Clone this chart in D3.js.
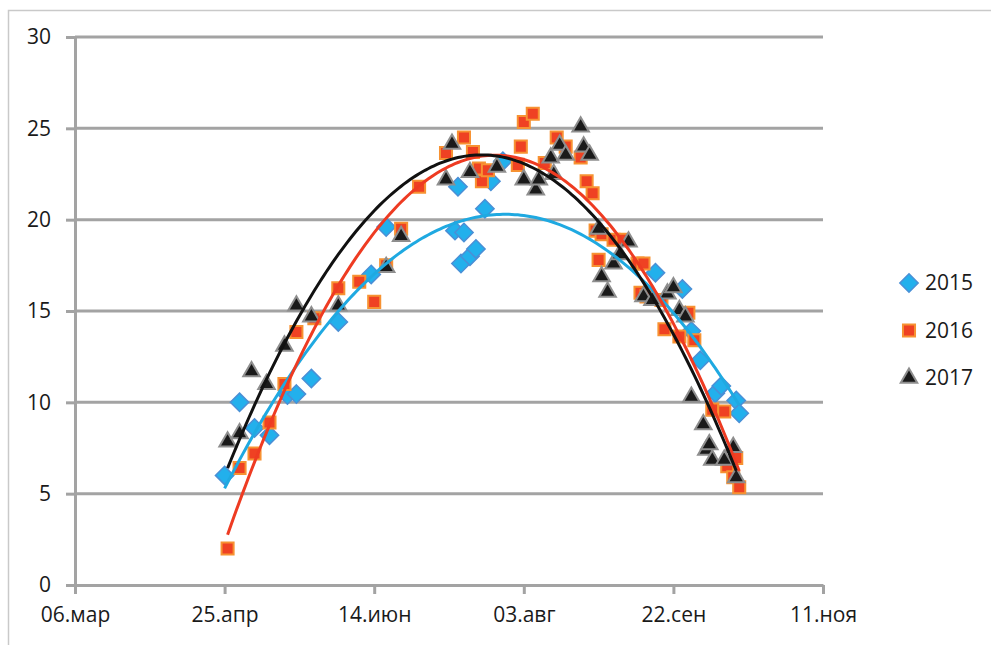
<!doctype html>
<html>
<head>
<meta charset="UTF-8">
<title>2015-2017</title>
<script src="https://d3js.org/d3.v7.min.js"></script>
<style>
  body { margin: 0; background: #fff; }
  text { font-family: "Open Sans", sans-serif; fill: #1a1a1a; }
</style>
</head>
<body>
<svg id="chart" width="991" height="645"></svg>
<script>
// values (day.month, value)
var seriesNames = ["2015", "2016", "2017"];

var dates2015 = ["25.04","30.04","05.05","10.05","16.05","19.05","24.05","02.06","13.06","18.06",
  "12.07","11.07","14.07","13.07","16.07","18.07","21.07","23.07","27.07",
  "16.09","25.09","28.09","01.10","06.10","08.10","13.10","14.10"];
var values2015 = [6.0,10.0,8.6,8.2,10.4,10.45,11.3,14.4,17.0,19.6,
  21.8,19.4,19.3,17.6,18.0,18.4,20.6,22.1,23.2,
  17.1,16.2,13.9,12.3,10.5,10.9,10.1,9.4];

var dates2016 = ["26.04","30.04","05.05","10.05","15.05","19.05","25.05","02.06","09.06","14.06",
  "18.06","23.06","29.06","08.07","14.07","17.07","19.07","20.07","22.07","01.08",
  "02.08","03.08","06.08","10.08","14.08","17.08","22.08","24.08","26.08","27.08",
  "28.08","29.08","02.09","05.09","10.09","11.09","12.09","13.09","18.09","19.09",
  "24.09","27.09","29.09","05.10","09.10","10.10","12.10","13.10","14.10"];
var values2016 = [2.0,6.4,7.2,8.9,11.0,13.85,14.6,16.25,16.6,15.5,
  17.5,19.5,21.8,23.65,24.5,23.7,22.8,22.1,22.7,23.0,
  24.0,25.35,25.8,23.1,24.5,24.0,23.4,22.1,21.45,19.4,
  17.8,19.2,18.9,18.9,17.6,16.0,17.6,15.8,15.6,14.0,
  13.6,14.9,13.4,9.6,9.5,6.5,5.9,6.95,5.35];

var dates2017 = ["26.04","30.04","04.05","09.05","15.05","19.05","24.05","02.06","18.06","23.06",
  "08.07","10.07","16.07","25.07","03.08","07.08","08.08","13.08","12.08","15.08",
  "17.08","22.08","23.08","25.08","28.08","29.08","31.08","02.09","04.09","07.09",
  "12.09","15.09","20.09","22.09","24.09","26.09","28.09","02.10","03.10","04.10",
  "05.10","09.10","12.10","13.10"];
var values2017 = [7.95,8.4,11.8,11.1,13.2,15.4,14.8,15.4,17.5,19.2,
  22.3,24.25,22.7,23.0,22.3,21.75,22.3,22.6,23.5,24.2,
  23.65,25.2,24.1,23.65,19.6,17.0,16.15,17.7,18.2,18.9,
  15.9,15.7,16.05,16.4,15.15,14.8,10.4,8.9,7.5,7.8,
  6.95,6.95,7.65,6.0];

var xTickDates = ["06.03","25.04","14.06","03.08","22.09","11.11"];
var xTickLabels = ["06.мар","25.апр","14.июн","03.авг","22.сен","11.ноя"];
var yTicks = [0, 5, 10, 15, 20, 25, 30];

var parse = d3.timeParse("%d.%m");

var svg = d3.select("#chart");
var plotLeft = 75, plotRight = 823, plotTop = 37, plotBottom = 585;

var x = d3.scaleTime()
  .domain([parse(xTickDates[0]), parse(xTickDates[xTickDates.length - 1])])
  .range([plotLeft, plotRight]);
var y = d3.scaleLinear().domain([0, 30]).range([plotBottom, plotTop]);

var gray = "#a3a3a3";

// outer frame
svg.append("path")
  .attr("d", "M8.5,645 L8.5,10.5 L991,10.5")
  .attr("fill", "none").attr("stroke", "#c9c9c9").attr("stroke-width", 1.5);

// horizontal gridlines
svg.append("g").selectAll("line")
  .data(yTicks.filter(function(v) { return v > 0; }))
  .enter().append("line")
  .attr("x1", plotLeft).attr("x2", plotRight)
  .attr("y1", function(d) { return y(d); })
  .attr("y2", function(d) { return y(d); })
  .attr("stroke", gray).attr("stroke-width", 3);

// y axis
var yAxis = svg.append("g")
  .attr("transform", "translate(" + plotLeft + ",0)")
  .call(d3.axisLeft(y).tickValues(yTicks).tickSize(9).tickSizeOuter(0).tickPadding(15));

// x axis
var xAxis = svg.append("g")
  .attr("transform", "translate(0," + plotBottom + ")")
  .call(d3.axisBottom(x)
    .tickValues(xTickDates.map(parse))
    .tickFormat(function(d, i) { return xTickLabels[i]; })
    .tickSize(9).tickSizeOuter(0).tickPadding(13));

[yAxis, xAxis].forEach(function(a) {
  a.select(".domain").attr("stroke", gray).attr("stroke-width", 3);
  a.selectAll(".tick line").attr("stroke", gray).attr("stroke-width", 3);
  a.selectAll("text").attr("font-size", 21).attr("fill", "#1a1a1a")
    .style("font-family", "'Open Sans', sans-serif");
});

// series
var series = [
  {name: seriesNames[0], dates: dates2015, values: values2015, line: "#1fa9e1"},
  {name: seriesNames[1], dates: dates2016, values: values2016, line: "#ee3b22"},
  {name: seriesNames[2], dates: dates2017, values: values2017, line: "#111111"}
];
series.forEach(function(s) {
  s.points = s.dates.map(function(d, i) { return {date: parse(d), value: s.values[i]}; });
});

var symbols = [
  {type: d3.symbolDiamond2, size: 215, fill: "#22b0ec", stroke: "#4a8fd6", sw: 1.5},
  {type: d3.symbolSquare2, size: 185, fill: "#ef4123", stroke: "#f79232", sw: 2},
  {type: d3.symbolTriangle2, size: 195, fill: "#1a1a1a", stroke: "#8e8e8e", sw: 2}
];

function marker(sel, i) {
  var m = symbols[i];
  sel.attr("d", d3.symbol().type(m.type).size(m.size))
    .attr("fill", m.fill).attr("stroke", m.stroke).attr("stroke-width", m.sw);
}

series.forEach(function(s, i) {
  svg.append("g").selectAll("path")
    .data(s.points)
    .enter().append("path")
    .attr("transform", function(d) {
      var dy = i === 2 ? 2 : 0;
      return "translate(" + x(d.date) + "," + (y(d.value) + dy) + ")";
    })
    .call(marker, i);
});

// polynomial (order 2) trend lines, least squares on day numbers
var t0 = parse(xTickDates[0]);
function dayOf(d) { return (d - t0) / 864e5; }

function fitQuad(pts) {
  var S = [0, 0, 0, 0, 0], T = [0, 0, 0];
  pts.forEach(function(p) {
    var t = dayOf(p.date), v = p.value, tp = 1;
    for (var k = 0; k < 5; k++) { S[k] += tp; if (k < 3) T[k] += tp * v; tp *= t; }
  });
  var A = [[S[0], S[1], S[2], T[0]], [S[1], S[2], S[3], T[1]], [S[2], S[3], S[4], T[2]]];
  for (var c = 0; c < 3; c++) {
    for (var r = c + 1; r < 3; r++) {
      var f = A[r][c] / A[c][c];
      for (var k = c; k < 4; k++) A[r][k] -= f * A[c][k];
    }
  }
  var coef = [0, 0, 0];
  for (var r = 2; r >= 0; r--) {
    var sum = A[r][3];
    for (var k = r + 1; k < 3; k++) sum -= A[r][k] * coef[k];
    coef[r] = sum / A[r][r];
  }
  return coef;
}

var line = d3.line()
  .x(function(d) { return x(d.date); })
  .y(function(d) { return y(d.value); });

series.forEach(function(s) {
  var c = fitQuad(s.points);
  var ext = d3.extent(s.points, function(p) { return dayOf(p.date); });
  var trend = d3.range(ext[0], ext[1] + 0.01, 1).map(function(t) {
    return {date: new Date(+t0 + t * 864e5), value: c[0] + c[1] * t + c[2] * t * t};
  });
  svg.append("path")
    .datum(trend)
    .attr("d", line)
    .attr("fill", "none")
    .attr("stroke", s.line)
    .attr("stroke-width", 3);
});

// legend
var legend = svg.append("g").selectAll("g")
  .data(series)
  .enter().append("g")
  .attr("transform", function(d, i) { return "translate(909," + (283 + i * 47.5) + ")"; });
legend.append("path")
  .each(function(d, i) { d3.select(this).call(marker, i); });
legend.append("text")
  .attr("x", 16).attr("y", 0).attr("dy", "0.35em")
  .attr("font-size", 21)
  .text(function(d) { return d.name; });
</script>
</body>
</html>
